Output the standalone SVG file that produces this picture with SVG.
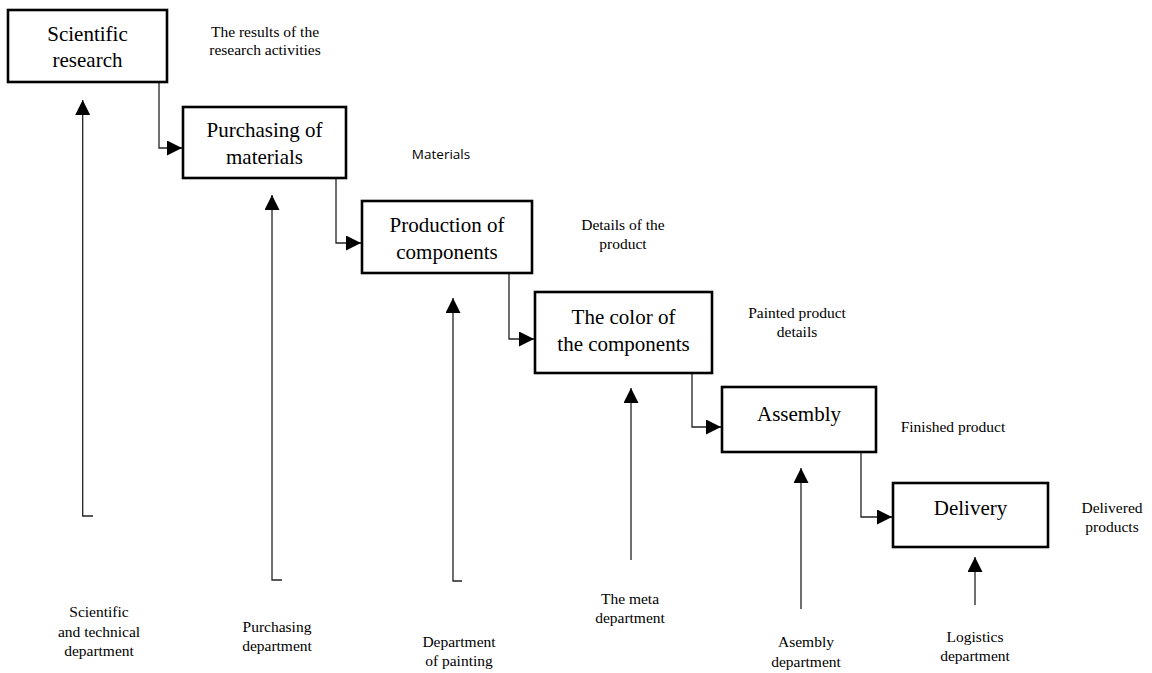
<svg xmlns="http://www.w3.org/2000/svg" width="1152" height="673" viewBox="0 0 1152 673">
<style>
.box{fill:#fff;stroke:#000;stroke-width:2.6}
.bt{font-family:"Liberation Serif","Times New Roman",serif;font-size:21px;fill:#000;text-anchor:middle}
.lt{font-family:"Liberation Serif","Times New Roman",serif;font-size:15.5px;fill:#000;text-anchor:middle}
.st{font-family:"Open Sans","Liberation Sans",sans-serif;font-size:13.5px;fill:#000;text-anchor:middle}
.c{fill:none;stroke:#222;stroke-width:1.3}
</style>
<defs>
<marker id="ah" markerUnits="userSpaceOnUse" markerWidth="16" markerHeight="16" refX="15" refY="7.5" orient="auto">
<path d="M0,0 L15,7.5 L0,15 Z" fill="#000"/>
</marker>
</defs>
<rect width="1152" height="673" fill="#fff"/>
<g id="connectors">
<path class="c" d="M159,82 V148 H182" marker-end="url(#ah)"/>
<path class="c" d="M336,178 V243 H361" marker-end="url(#ah)"/>
<path class="c" d="M509,273 V339 H534" marker-end="url(#ah)"/>
<path class="c" d="M692,373 V427 H721" marker-end="url(#ah)"/>
<path class="c" d="M861,452 V517 H892" marker-end="url(#ah)"/>
<path class="c" d="M93,516 H82.7 V100" marker-end="url(#ah)"/>
<path class="c" d="M282,580 H272 V195" marker-end="url(#ah)"/>
<path class="c" d="M462,581 H453 V298" marker-end="url(#ah)"/>
<path class="c" d="M631,560 V388" marker-end="url(#ah)"/>
<path class="c" d="M801,609 V468" marker-end="url(#ah)"/>
<path class="c" d="M975,605 V557" marker-end="url(#ah)"/>
</g>
<g id="n1"><rect class="box" x="8" y="10" width="159" height="72"/><text class="bt" x="87.5" y="41">Scientific</text><text class="bt" x="87.5" y="67">research</text></g>
<g id="n2"><rect class="box" x="183" y="107" width="163" height="71"/><text class="bt" x="264.5" y="137">Purchasing of</text><text class="bt" x="264.5" y="164">materials</text></g>
<g id="n3"><rect class="box" x="362" y="201" width="170" height="72"/><text class="bt" x="447" y="232">Production of</text><text class="bt" x="447" y="259">components</text></g>
<g id="n4"><rect class="box" x="535" y="292" width="177" height="81"/><text class="bt" x="623.5" y="324">The color of</text><text class="bt" x="623.5" y="351">the components</text></g>
<g id="n5"><rect class="box" x="722" y="387" width="154" height="65"/><text class="bt" x="799" y="421">Assembly</text></g>
<g id="n6"><rect class="box" x="893" y="483" width="155" height="64"/><text class="bt" x="970.5" y="515">Delivery</text></g>
<g id="labels">
<text class="lt" x="265" y="37">The results of the</text>
<text class="lt" x="265" y="55">research activities</text>
<text class="st" x="441" y="159">Materials</text>
<text class="lt" x="623" y="230">Details of the</text>
<text class="lt" x="623" y="249">product</text>
<text class="lt" x="797" y="318">Painted product</text>
<text class="lt" x="797" y="337">details</text>
<text class="lt" x="953" y="432">Finished product</text>
<text class="lt" x="1112" y="513">Delivered</text>
<text class="lt" x="1112" y="532">products</text>
<text class="lt" x="99" y="617">Scientific</text>
<text class="lt" x="99" y="637">and technical</text>
<text class="lt" x="99" y="656">department</text>
<text class="lt" x="277" y="632">Purchasing</text>
<text class="lt" x="277" y="651">department</text>
<text class="lt" x="459" y="647">Department</text>
<text class="lt" x="459" y="666">of painting</text>
<text class="lt" x="630" y="604">The meta</text>
<text class="lt" x="630" y="623">department</text>
<text class="lt" x="806" y="647">Asembly</text>
<text class="lt" x="806" y="667">department</text>
<text class="lt" x="975" y="642">Logistics</text>
<text class="lt" x="975" y="661">department</text>
</g>
</svg>
